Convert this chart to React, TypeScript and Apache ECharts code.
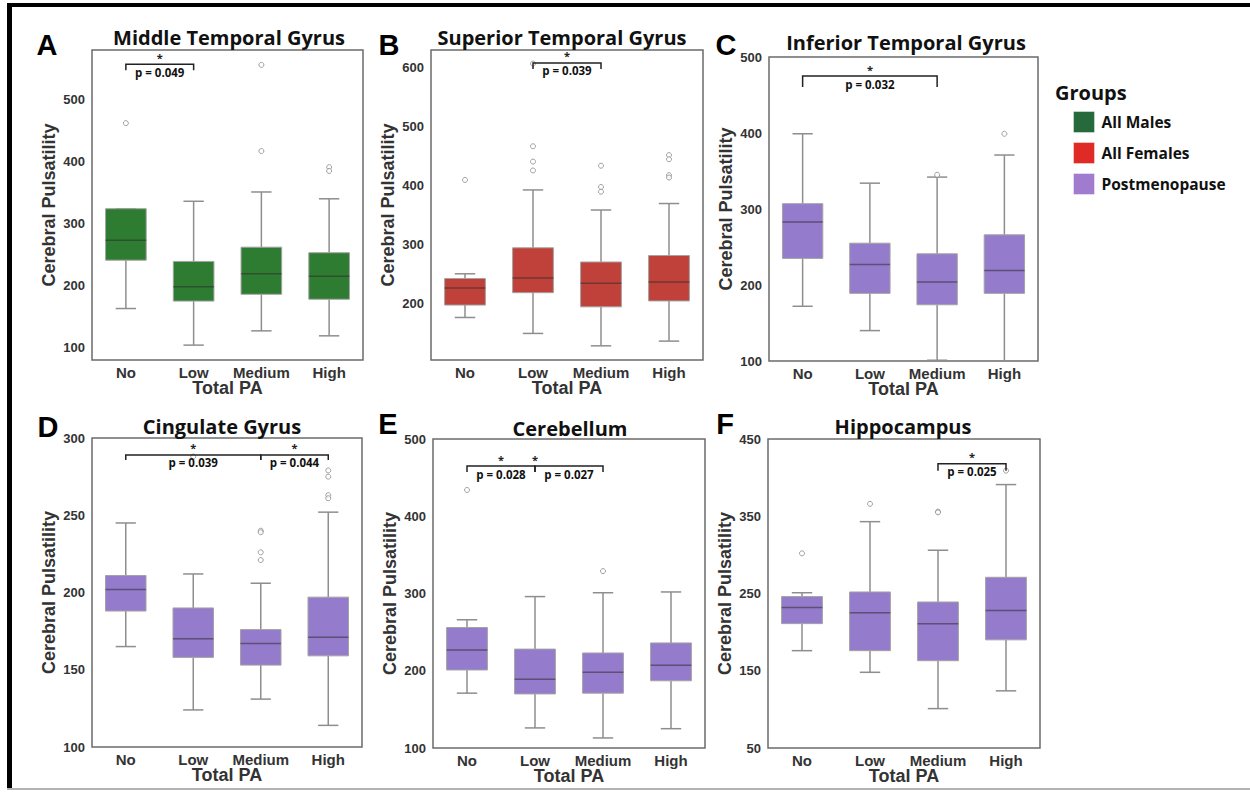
import React, { useEffect, useRef } from 'react';
import * as echarts from 'echarts';

const categories = ['No', 'Low', 'Medium', 'High'];
const groupNames = ['All Males', 'All Females', 'Postmenopause'];
const panelTitles = [
  'Middle Temporal Gyrus',
  'Superior Temporal Gyrus',
  'Inferior Temporal Gyrus',
  'Cingulate Gyrus',
  'Cerebellum',
  'Hippocampus',
];
const panelLetters = ['A', 'B', 'C', 'D', 'E', 'F'];
const panelGroups = [0, 1, 2, 2, 2, 2];
const xAxisTitle = 'Total PA';
const yAxisTitle = 'Cerebral Pulsatility';
const legendTitle = 'Groups';

// Box statistics per category: [lower whisker, Q1, median, Q3, upper whisker]
const middleTemporalBoxes = [
  [163, 241, 273, 324, 324],
  [104, 175, 198, 239, 336],
  [127, 186, 219, 262, 351],
  [119, 178, 215, 253, 340],
];
const superiorTemporalBoxes = [
  [177, 198, 227, 243, 251],
  [150, 219, 244, 295, 393],
  [129, 195, 235, 271, 359],
  [137, 205, 237, 282, 370],
];
const inferiorTemporalBoxes = [
  [172, 235, 283, 307, 399],
  [140, 189, 227, 255, 334],
  [101, 174, 204, 241, 342],
  [100, 189, 219, 266, 371],
];
const cingulateBoxes = [
  [165, 188, 202, 211, 245],
  [124, 158, 170, 190, 212],
  [131, 153, 167, 176, 206],
  [114, 159, 171, 197, 252],
];
const cerebellumBoxes = [
  [171, 201, 227, 256, 266],
  [126, 170, 189, 228, 296],
  [113, 171, 198, 223, 301],
  [125, 187, 207, 236, 302],
];
const hippocampusBoxes = [
  [176, 211, 232, 246, 251],
  [148, 176, 225, 252, 343],
  [101, 163, 211, 239, 306],
  [124, 190, 228, 271, 391],
];

// Outliers: [category index, value]
const middleTemporalOutliers = [[0, 462], [2, 417], [2, 556], [3, 391], [3, 385]];
const superiorTemporalOutliers = [
  [0, 410], [1, 467], [1, 441], [1, 426], [1, 607], [2, 434], [2, 398], [2, 390],
  [3, 452], [3, 445], [3, 418], [3, 414],
];
const inferiorTemporalOutliers = [[2, 345], [3, 399]];
const cingulateOutliers = [
  [1, 288], [2, 240], [2, 239], [2, 226], [2, 221], [3, 279], [3, 275], [3, 263], [3, 261],
];
const cerebellumOutliers = [[0, 434], [2, 329]];
const hippocampusOutliers = [[0, 302], [1, 366], [2, 356], [2, 355], [3, 409]];

// Significance tests: category indices compared and p value
const middleTemporalTests = [{ from: 0, to: 1, p: 'p = 0.049' }];
const superiorTemporalTests = [{ from: 1, to: 2, p: 'p = 0.039' }];
const inferiorTemporalTests = [{ from: 0, to: 2, p: 'p = 0.032' }];
const cingulateTests = [
  { from: 0, to: 2, p: 'p = 0.039' },
  { from: 2, to: 3, p: 'p = 0.044' },
];
const cerebellumTests = [
  { from: 0, to: 1, p: 'p = 0.028' },
  { from: 1, to: 2, p: 'p = 0.027', starAt: 1 },
];
const hippocampusTests = [{ from: 2, to: 3, p: 'p = 0.025' }];

const allBoxes = [middleTemporalBoxes, superiorTemporalBoxes, inferiorTemporalBoxes, cingulateBoxes, cerebellumBoxes, hippocampusBoxes];
const allOutliers = [middleTemporalOutliers, superiorTemporalOutliers, inferiorTemporalOutliers, cingulateOutliers, cerebellumOutliers, hippocampusOutliers];
const allTests: any[] = [middleTemporalTests, superiorTemporalTests, inferiorTemporalTests, cingulateTests, cerebellumTests, hippocampusTests];

// Layout and style (not data)
const layouts = [
  { grid: { left: 92, top: 50, width: 271, height: 310 }, yMin: 80, yMax: 580, yStep: 20, labelFrom: 100, labelEvery: 100, bracketAt: 557, drop: 6, title: [229, 37], letter: [47, 45] },
  { grid: { left: 431, top: 50, width: 272, height: 310 }, yMin: 105, yMax: 630, yStep: 5, labelFrom: 200, labelEvery: 100, bracketAt: 608, drop: 6, title: [562, 37], letter: [389, 45] },
  { grid: { left: 769, top: 57, width: 269, height: 304 }, yMin: 100, yMax: 500, yStep: 100, labelFrom: 100, labelEvery: 100, bracketAt: 475, drop: 11, title: [906, 42], letter: [726, 45] },
  { grid: { left: 92, top: 438, width: 270, height: 309 }, yMin: 100, yMax: 300, yStep: 50, labelFrom: 100, labelEvery: 50, bracketAt: 289, drop: 5, title: [222, 426], letter: [48, 427] },
  { grid: { left: 433, top: 439, width: 272, height: 309 }, yMin: 100, yMax: 500, yStep: 100, labelFrom: 100, labelEvery: 100, bracketAt: 465, drop: 6, title: [570, 428], letter: [388, 424] },
  { grid: { left: 768, top: 439, width: 272, height: 309 }, yMin: 50, yMax: 450, yStep: 100, labelFrom: 50, labelEvery: 100, bracketAt: 418, drop: 7, title: [903, 426], letter: [725, 424] },
];

const boxFills = ['#2E7C31', '#C0413A', '#947BCB'];
const swatchFills = ['#26693B', '#E02A26', '#A07BD0'];
const AXIS_FONT = 'Liberation Sans';
const TITLE_FONT = 'Open Sans';

const txt = (o: any) => ({
  ...o,
  align: o.align,
  verticalAlign: o.verticalAlign,
  textAlign: o.align,
  textVerticalAlign: o.verticalAlign,
});

const boxRenderer = (fill: string) => (params: any, api: any) => {
  const idx = api.value(0);
  const lo = api.coord([idx, api.value(1)]);
  const q1 = api.coord([idx, api.value(2)]);
  const md = api.coord([idx, api.value(3)]);
  const q3 = api.coord([idx, api.value(4)]);
  const hi = api.coord([idx, api.value(5)]);
  const band = api.size([1, 0])[0];
  const w = band * 0.6;
  const cx = lo[0];
  const ws = { stroke: '#8e8e8e', lineWidth: 1.5 };
  return {
    type: 'group',
    children: [
      { type: 'line', shape: { x1: cx, y1: lo[1], x2: cx, y2: q1[1] }, style: ws },
      { type: 'line', shape: { x1: cx, y1: q3[1], x2: cx, y2: hi[1] }, style: ws },
      { type: 'line', shape: { x1: cx - w / 4, y1: lo[1], x2: cx + w / 4, y2: lo[1] }, style: ws },
      { type: 'line', shape: { x1: cx - w / 4, y1: hi[1], x2: cx + w / 4, y2: hi[1] }, style: ws },
      {
        type: 'rect',
        shape: { x: cx - w / 2, y: q3[1], width: w, height: q1[1] - q3[1] },
        style: { fill, stroke: '#a3a3a3', lineWidth: 1 },
      },
      {
        type: 'line',
        shape: { x1: cx - w / 2, y1: md[1], x2: cx + w / 2, y2: md[1] },
        style: { stroke: 'rgba(45,45,45,0.55)', lineWidth: 1.5 },
      },
    ],
  };
};

const testRenderer = (tests: any[], drop: number) => (params: any, api: any) => {
  const t = tests[params.dataIndex];
  const yv = api.value(2);
  const p0 = api.coord([0, yv]);
  const band = api.size([1, 0])[0];
  const X = (k: number) => p0[0] + k * band;
  const x1 = X(t.from);
  const x2 = X(t.to);
  const yy = p0[1];
  const mid = (t.from + t.to) / 2;
  const sx = X(t.starAt != null ? t.starAt : mid);
  const tx = X(mid);
  return {
    type: 'group',
    children: [
      {
        type: 'polyline',
        shape: { points: [[x1, yy + drop], [x1, yy], [x2, yy], [x2, yy + drop]] },
        style: { stroke: '#222', lineWidth: 1.5, fill: null },
      },
      {
        type: 'text',
        style: txt({ text: '*', x: sx, y: yy - 7, align: 'center', verticalAlign: 'middle', fontSize: 11, lineHeight: 11, fontWeight: 'bold', fontFamily: TITLE_FONT, fill: '#222' }),
      },
      {
        type: 'text',
        style: txt({ text: t.p, x: tx, y: yy + 8, align: 'center', verticalAlign: 'middle', fontSize: 11.5, lineHeight: 12, fontWeight: 'bold', fontFamily: TITLE_FONT, fill: '#111' }),
      },
    ],
  };
};

function buildOption() {
  const grid: any[] = [];
  const xAxis: any[] = [];
  const yAxis: any[] = [];
  const series: any[] = [];
  const graphic: any[] = [];

  // Figure frame
  graphic.push({ type: 'rect', shape: { x: 7, y: 3, width: 1243, height: 4 }, style: { fill: '#000' } });
  graphic.push({ type: 'rect', shape: { x: 7, y: 3, width: 5, height: 786 }, style: { fill: '#000' } });
  graphic.push({ type: 'rect', shape: { x: 7, y: 788, width: 1243, height: 2 }, style: { fill: '#b3b3b3' } });

  layouts.forEach((L, i) => {
    grid.push({ ...L.grid, show: true, borderColor: '#6b6b6b', borderWidth: 1.5, backgroundColor: 'transparent' });
    xAxis.push({
      type: 'category',
      gridIndex: i,
      data: categories,
      axisTick: { show: false },
      axisLine: { show: false },
      splitLine: { show: false },
      axisLabel: { interval: 0, fontFamily: AXIS_FONT, fontWeight: 'bold', fontSize: 15, color: '#333', margin: 5 },
      name: xAxisTitle,
      nameLocation: 'middle',
      nameGap: 19,
      nameMoveOverlap: false,
      nameTextStyle: { fontFamily: AXIS_FONT, fontWeight: 'bold', fontSize: 18, color: '#333' },
    });
    yAxis.push({
      type: 'value',
      gridIndex: i,
      min: L.yMin,
      max: L.yMax,
      interval: L.yStep,
      axisTick: { show: false },
      axisLine: { show: false },
      splitLine: { show: false },
      axisLabel: {
        fontFamily: AXIS_FONT,
        fontWeight: 'bold',
        fontSize: 13,
        color: '#333',
        margin: 7,
        showMinLabel: true,
        showMaxLabel: true,
        formatter: (v: number) => {
          const r = (v - L.labelFrom) / L.labelEvery;
          return v >= L.labelFrom && Math.abs(r - Math.round(r)) < 1e-6 ? String(v) : '';
        },
      },
      name: yAxisTitle,
      nameLocation: 'middle',
      nameGap: 34,
      nameMoveOverlap: false,
      nameTextStyle: { fontFamily: AXIS_FONT, fontWeight: 'bold', fontSize: 18, color: '#333' },
    });

    const fill = boxFills[panelGroups[i]];
    series.push({
      type: 'custom',
      name: groupNames[panelGroups[i]],
      xAxisIndex: i,
      yAxisIndex: i,
      itemStyle: { color: fill },
      encode: { x: 0, y: [1, 2, 3, 4, 5] },
      data: allBoxes[i].map((b, j) => [j, ...b]),
      renderItem: boxRenderer(fill),
      silent: true,
      z: 2,
    });
    series.push({
      type: 'scatter',
      name: 'outliers-' + panelLetters[i],
      xAxisIndex: i,
      yAxisIndex: i,
      symbol: 'circle',
      symbolSize: 5,
      itemStyle: { color: '#ffffff', borderColor: '#8a8a8a', borderWidth: 1 },
      data: allOutliers[i],
      silent: true,
      z: 3,
    });
    series.push({
      type: 'custom',
      name: 'tests-' + panelLetters[i],
      xAxisIndex: i,
      yAxisIndex: i,
      encode: { x: 0, y: 2 },
      data: allTests[i].map((t: any) => [t.from, t.to, L.bracketAt]),
      renderItem: testRenderer(allTests[i], L.drop),
      silent: true,
      z: 5,
    });

    graphic.push({
      type: 'text',
      x: L.title[0],
      y: L.title[1],
      style: txt({ text: panelTitles[i], align: 'center', verticalAlign: 'middle', fontSize: 20, lineHeight: 20, fontWeight: 'bold', fontFamily: TITLE_FONT, fill: '#111' }),
    });
    graphic.push({
      type: 'text',
      x: L.letter[0],
      y: L.letter[1],
      style: txt({ text: panelLetters[i], align: 'center', verticalAlign: 'middle', fontSize: 29, lineHeight: 29, fontWeight: 'bold', fontFamily: AXIS_FONT, fill: '#000' }),
    });
  });

  graphic.push({
    type: 'text',
    x: 1055,
    y: 92,
    style: txt({ text: legendTitle, align: 'left', verticalAlign: 'middle', fontSize: 20, lineHeight: 20, fontWeight: 'bold', fontFamily: TITLE_FONT, fill: '#111' }),
  });

  return {
    animation: false,
    backgroundColor: '#ffffff',
    grid,
    xAxis,
    yAxis,
    series,
    graphic,
    legend: {
      data: groupNames.map((n, i) => ({ name: n, itemStyle: { color: swatchFills[i], borderColor: 'rgba(255,255,255,0.4)', borderWidth: 1 } })),
      orient: 'vertical',
      left: 1068,
      top: 106,
      itemWidth: 21,
      itemHeight: 21,
      itemGap: 9,
      icon: 'rect',
      selectedMode: false,
      textStyle: { fontFamily: TITLE_FONT, fontWeight: 'bold', fontSize: 15.5, color: '#111', padding: [0, 0, 0, 2] },
    },
  };
}

export default function App() {
  const ref = useRef<HTMLDivElement>(null);
  useEffect(() => {
    if (!ref.current) return;
    const chart = echarts.init(ref.current, undefined, { renderer: 'svg' });
    chart.setOption(buildOption() as any);
    return () => chart.dispose();
  }, []);
  return (
    <div
      ref={ref}
      style={{ position: 'fixed', left: 0, top: 0, width: 1250, height: 801, background: '#ffffff' }}
    />
  );
}
